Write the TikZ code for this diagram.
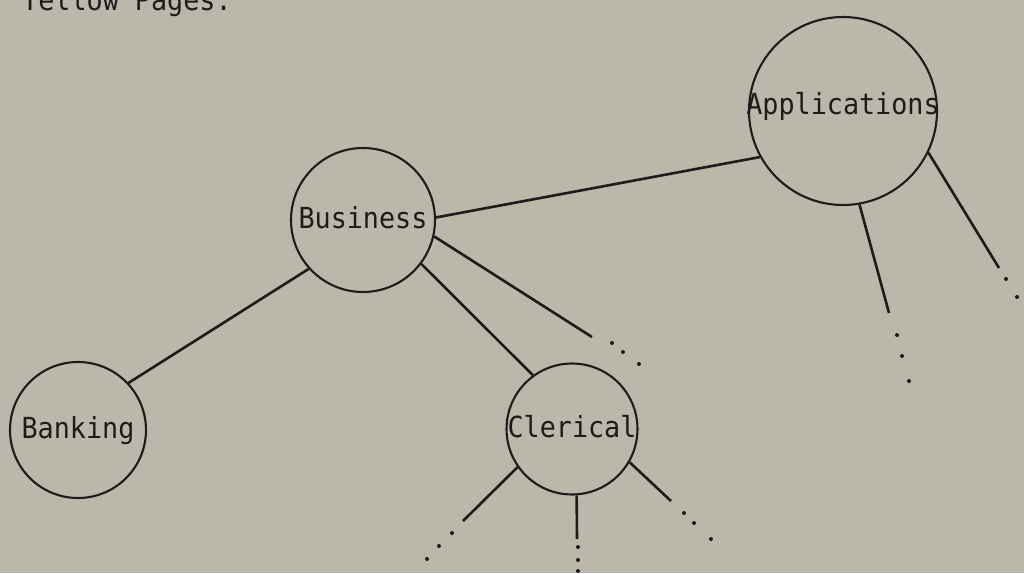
\documentclass[tikz,border=0pt]{standalone}
\usepackage{fontspec}
\newfontfamily\typefont[FakeStretch=0.923]{DejaVu Sans Mono}
\definecolor{paper}{RGB}{187,183,171}
\definecolor{ink}{RGB}{28,28,26}
\begin{document}
\begin{tikzpicture}[x=1pt,y=-1pt,
  typed/.style={text=ink, font={\typefont\fontsize{29}{34}\selectfont}},
  topic/.style={typed, circle, draw=ink, line width=2.1pt, inner sep=0pt, text height=20pt, text depth=4pt},
  link/.style={draw=ink, line width=2.6pt},
  dotmark/.style={fill=ink}]
\fill[paper] (0,0) rectangle (1024,573);
\useasboundingbox (0,0) rectangle (1024,573);

\node[typed, anchor=base west, inner sep=0pt] (title) at (22,10) {Yellow Pages:};

\node[topic, minimum size=144pt] (business) at (363,220) {Business};
\node[topic, minimum size=136pt] (banking) at (78,430) {Banking};
\node[topic, minimum size=130pt] (clerical) at (572,429) {Clerical};
\node[topic, minimum size=188pt, text height=12pt, text depth=6pt] (applications) at (843,111) {\makebox[170pt][c]{Applications}};

% free ends
\coordinate (bend) at (592,337);
\coordinate (cl1) at (463,521);
\coordinate (cl2) at (577,539);
\coordinate (cl3) at (671,501);
\coordinate (ap1) at (889,313);
\coordinate (ap2) at (999,268);

\draw[link] (business.2) -- (applications.209);
\draw[link] (business.222) -- (banking.43);
\draw[link] (business.-37) -- (clerical.126);
\draw[link] (business.-13) -- (bend);
\draw[link] (clerical.-145) -- (cl1);
\draw[link] (clerical.-86) -- (cl2);
\draw[link] (clerical.-30) -- (cl3);
\draw[link] (applications.-80) -- (ap1);
\draw[link] (applications.-26) -- (ap2);

\foreach \p in {(612,343),(623,352),(639,364),
                (452,533),(439,546),(427,559),
                (578,547),(578,560),(578,571),
                (684,513),(694,523),(711,539),
                (897,335),(902,356),(909,381),
                (1006,279),(1017,297)}
  \fill[dotmark] \p circle (2pt);
\end{tikzpicture}
\end{document}
